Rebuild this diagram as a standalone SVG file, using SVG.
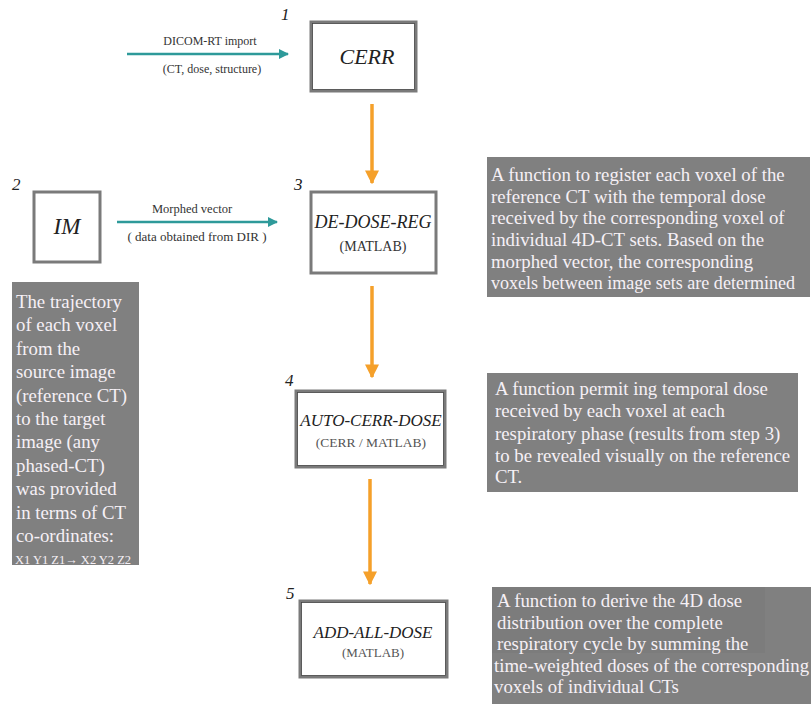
<svg xmlns="http://www.w3.org/2000/svg" width="811" height="704" viewBox="0 0 811 704">
<defs>
<marker id="teal" viewBox="0 0 10 10" refX="9" refY="5" markerWidth="4" markerHeight="4" orient="auto" markerUnits="strokeWidth"><path d="M0,0 L10,5 L0,10 z" fill="#2e9a9a"/></marker>
<marker id="orange" viewBox="0 0 10 10" refX="9" refY="5" markerWidth="4" markerHeight="4" orient="auto" markerUnits="strokeWidth"><path d="M0,0 L10,5 L0,10 z" fill="#f5a02a"/></marker>
</defs>
<style>
text{font-family:'Liberation Serif','DejaVu Serif',serif}
.box{fill:#fff;stroke:#7a7a7a;stroke-width:3}
.inner{fill:none;stroke:#444;stroke-width:0.8}
.title{font-style:italic;fill:#222;text-anchor:middle}
.sub{fill:#555;text-anchor:middle}
.num{font-style:italic;font-size:17px;fill:#222}
.lbl{font-size:12px;fill:#333;text-anchor:middle}
.gray{fill:#808080}
.wt{fill:#f6f0f6;font-size:18.8px}
.teal{stroke:#2e9a9a;stroke-width:2.5;fill:none}
.or{stroke:#f5a02a;stroke-width:3.5;fill:none}
</style>
<rect width="811" height="704" fill="#fff"/>
<g id="connectors">
<line class="teal" x1="127" y1="54" x2="288" y2="54" marker-end="url(#teal)"/>
<line class="teal" x1="117" y1="222" x2="277" y2="222" marker-end="url(#teal)"/>
<line class="or" x1="372" y1="104" x2="372" y2="183" marker-end="url(#orange)"/>
<line class="or" x1="372" y1="286" x2="372" y2="377" marker-end="url(#orange)"/>
<line class="or" x1="370" y1="479" x2="370" y2="584" marker-end="url(#orange)"/>
<text class="lbl" x="210" y="45">DICOM-RT import</text>
<text class="lbl" x="212" y="73">(CT, dose, structure)</text>
<text class="lbl" x="192" y="213" style="font-size:12.5px">Morphed vector</text>
<text class="lbl" x="197" y="241" style="font-size:13px">( data obtained from DIR )</text>
</g>
<g id="n1">
<text class="num" x="281" y="20">1</text>
<rect class="box" x="311" y="22" width="105" height="69"/>
<rect class="inner" x="312.5" y="23.5" width="102" height="66"/>
<text class="title" x="367" y="64" style="font-size:22px">CERR</text>
</g>
<g id="n2">
<text class="num" x="12" y="190">2</text>
<rect class="box" x="34" y="192" width="66" height="70"/>
<text class="title" x="67" y="234" style="font-size:23px">IM</text>
</g>
<g id="n3">
<text class="num" x="294" y="190">3</text>
<rect class="box" x="311" y="192" width="125" height="81"/>
<text class="title" x="373" y="228" style="font-size:18px">DE-DOSE-REG</text>
<text class="sub" x="373" y="251" style="font-size:14px;fill:#333">(MATLAB)</text>
</g>
<g id="n4">
<text class="num" x="285" y="386">4</text>
<rect class="box" x="296" y="391" width="149" height="76"/>
<rect class="inner" x="297.5" y="392.5" width="146" height="73"/>
<text class="title" x="371" y="426" style="font-size:17px">AUTO-CERR-DOSE</text>
<text class="sub" x="371" y="447" style="font-size:13.5px">(CERR / MATLAB)</text>
</g>
<g id="n5">
<text class="num" x="286" y="599">5</text>
<rect class="box" x="300" y="601" width="147" height="76"/>
<rect class="inner" x="301.5" y="602.5" width="144" height="73"/>
<text class="title" x="373" y="638" style="font-size:17px">ADD-ALL-DOSE</text>
<text class="sub" x="373" y="657" style="font-size:13px">(MATLAB)</text>
</g>
<g id="note-left">
<rect class="gray" x="12" y="282" width="127" height="283"/>
<text class="wt" x="16" y="308">The trajectory</text>
<text class="wt" x="16" y="331">of each voxel</text>
<text class="wt" x="16" y="355">from the</text>
<text class="wt" x="16" y="378">source image</text>
<text class="wt" x="16" y="402">(reference CT)</text>
<text class="wt" x="16" y="425">to the target</text>
<text class="wt" x="16" y="448">image (any</text>
<text class="wt" x="16" y="472">phased-CT)</text>
<text class="wt" x="16" y="495">was provided</text>
<text class="wt" x="16" y="519">in terms of CT</text>
<text class="wt" x="16" y="542">co-ordinates:</text>
<text class="wt" x="15" y="564" style="font-size:12.5px">X1 Y1 Z1→ X2 Y2 Z2</text>
</g>
<g id="note-3">
<rect class="gray" x="487" y="157" width="323" height="140"/>
<text class="wt" x="491" y="181">A function to register each voxel of the</text>
<text class="wt" x="491" y="203">reference CT with the temporal dose</text>
<text class="wt" x="491" y="224">received by the corresponding voxel of</text>
<text class="wt" x="491" y="246">individual 4D-CT sets. Based on the</text>
<text class="wt" x="491" y="268">morphed vector, the corresponding</text>
<text class="wt" x="491" y="289" textLength="304" lengthAdjust="spacingAndGlyphs">voxels between image sets  are determined</text>
</g>
<g id="note-4">
<rect class="gray" x="487" y="373" width="311" height="119"/>
<text class="wt" x="495" y="395">A function permit ing temporal dose</text>
<text class="wt" x="495" y="417">received by each voxel at each</text>
<text class="wt" x="495" y="440">respiratory phase (results from step 3)</text>
<text class="wt" x="495" y="462">to be revealed visually  on the reference</text>
<text class="wt" x="495" y="483">CT.</text>
</g>
<g id="note-5">
<rect class="gray" x="492" y="587" width="319" height="117"/>
<rect x="492" y="587" width="273" height="66" fill="#7c7c7c"/>
<text class="wt" x="497" y="607">A function to derive the 4D dose</text>
<text class="wt" x="497" y="629">distribution over the complete</text>
<text class="wt" x="497" y="650">respiratory cycle by summing the</text>
<text class="wt" x="494" y="672">time-weighted doses of the corresponding</text>
<text class="wt" x="494" y="693">voxels of individual CTs</text>
</g>
</svg>
